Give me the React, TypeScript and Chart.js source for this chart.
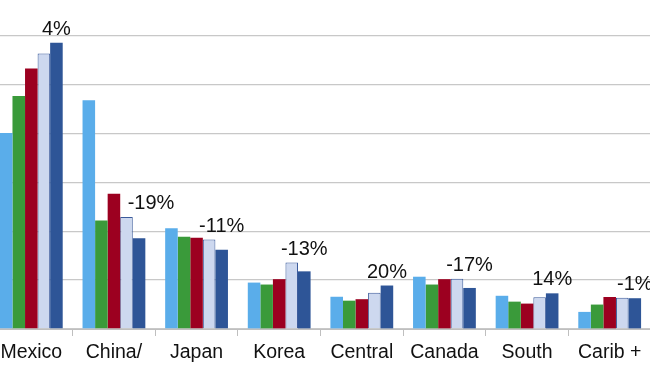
import React, { useEffect, useRef } from "react";
import { Chart, registerables } from "chart.js";

Chart.register(...registerables);

const categories: string[][] = [
  ["Mexico"],
  ["China/", "HK"],
  ["Japan"],
  ["Korea"],
  ["Central", "America"],
  ["Canada"],
  ["South", "America"],
  ["Carib +", "DR"],
];

const series1 = [4.01, 4.68, 2.06, 0.95, 0.66, 1.07, 0.68, 0.35];
const series2 = [4.77, 2.22, 1.89, 0.91, 0.58, 0.91, 0.56, 0.5];
const series3 = [5.33, 2.77, 1.87, 1.02, 0.61, 1.02, 0.52, 0.655];
const series4 = [5.64, 2.29, 1.83, 1.36, 0.74, 1.03, 0.65, 0.64];
const series5 = [5.86, 1.86, 1.62, 1.18, 0.89, 0.84, 0.73, 0.63];
const changeLabels = ["4%", "-19%", "-11%", "-13%", "20%", "-17%", "14%", "-1%"];

const FONT = "'Liberation Sans', Arial, sans-serif";

const labelPlugin = {
  id: "changeLabels",
  afterDatasetsDraw(chart: any) {
    const ctx = chart.ctx;
    const m4 = chart.getDatasetMeta(3);
    const m5 = chart.getDatasetMeta(4);
    ctx.save();
    ctx.font = `20px ${FONT}`;
    ctx.fillStyle = "#111";
    ctx.textAlign = "center";
    ctx.textBaseline = "alphabetic";
    changeLabels.forEach((t, i) => {
      const b4 = m4.data[i];
      const b5 = m5.data[i];
      const top = Math.min(b4.y, b5.y);
      const dx = i === 1 ? 12 : 0;
      ctx.fillText(t, b5.x + dx, top - 8);
    });
    ctx.restore();
  },
};

export default function App() {
  const ref = useRef<HTMLCanvasElement | null>(null);
  useEffect(() => {
    document.body.style.margin = "0";
    const canvas = ref.current!;
    const mk = (label: string, data: number[], bg: string, border: string, bw: number) => ({
      label,
      data,
      backgroundColor: bg,
      borderColor: border,
      borderWidth: bw,
      borderSkipped: "bottom" as const,
    });
    const chart = new Chart(canvas, {
      type: "bar",
      data: {
        labels: categories,
        datasets: [
          mk("s1", series1, "#5AADEA", "#5AADEA", 0),
          mk("s2", series2, "#3A9A3A", "#3A9A3A", 0),
          mk("s3", series3, "#9C0020", "#9C0020", 0),
          mk("s4", series4, "#CDD8EF", "#3A5A9A", 1),
          mk("s5", series5, "#2E5597", "#2E5597", 0),
        ],
      },
      options: {
        animation: false,
        responsive: false,
        maintainAspectRatio: false,
        layout: { padding: 0 },
        plugins: { legend: { display: false }, tooltip: { enabled: false } },
        datasets: { bar: { categoryPercentage: 0.76, barPercentage: 1 } },
        scales: {
          x: {
            grid: {
              offset: true,
              drawOnChartArea: false,
              drawTicks: true,
              tickLength: 7,
              color: "#BFBFBF",
            },
            border: { display: true, color: "#BFBFBF", width: 1 },
            ticks: {
              color: "#111",
              font: { family: FONT, size: 19.5 },
              padding: 5,
              maxRotation: 0,
              autoSkip: false,
            },
            afterFit: (s: any) => {
              s.height = 60;
            },
          },
          y: {
            min: 0,
            max: 7,
            ticks: { display: false, stepSize: 1 },
            grid: { color: "#C8C8C8", lineWidth: 1.3, drawTicks: false },
            border: { display: false },
            afterFit: (s: any) => {
              s.width = 0;
            },
          },
        },
      },
      plugins: [labelPlugin],
    });
    return () => chart.destroy();
  }, []);
  return (
    <div style={{ position: "relative", width: 650, height: 366, overflow: "hidden", background: "#fff" }}>
      <canvas
        ref={ref}
        width={661}
        height={402}
        style={{ position: "absolute", left: -10, top: -13, width: 661, height: 402 }}
      />
    </div>
  );
}
